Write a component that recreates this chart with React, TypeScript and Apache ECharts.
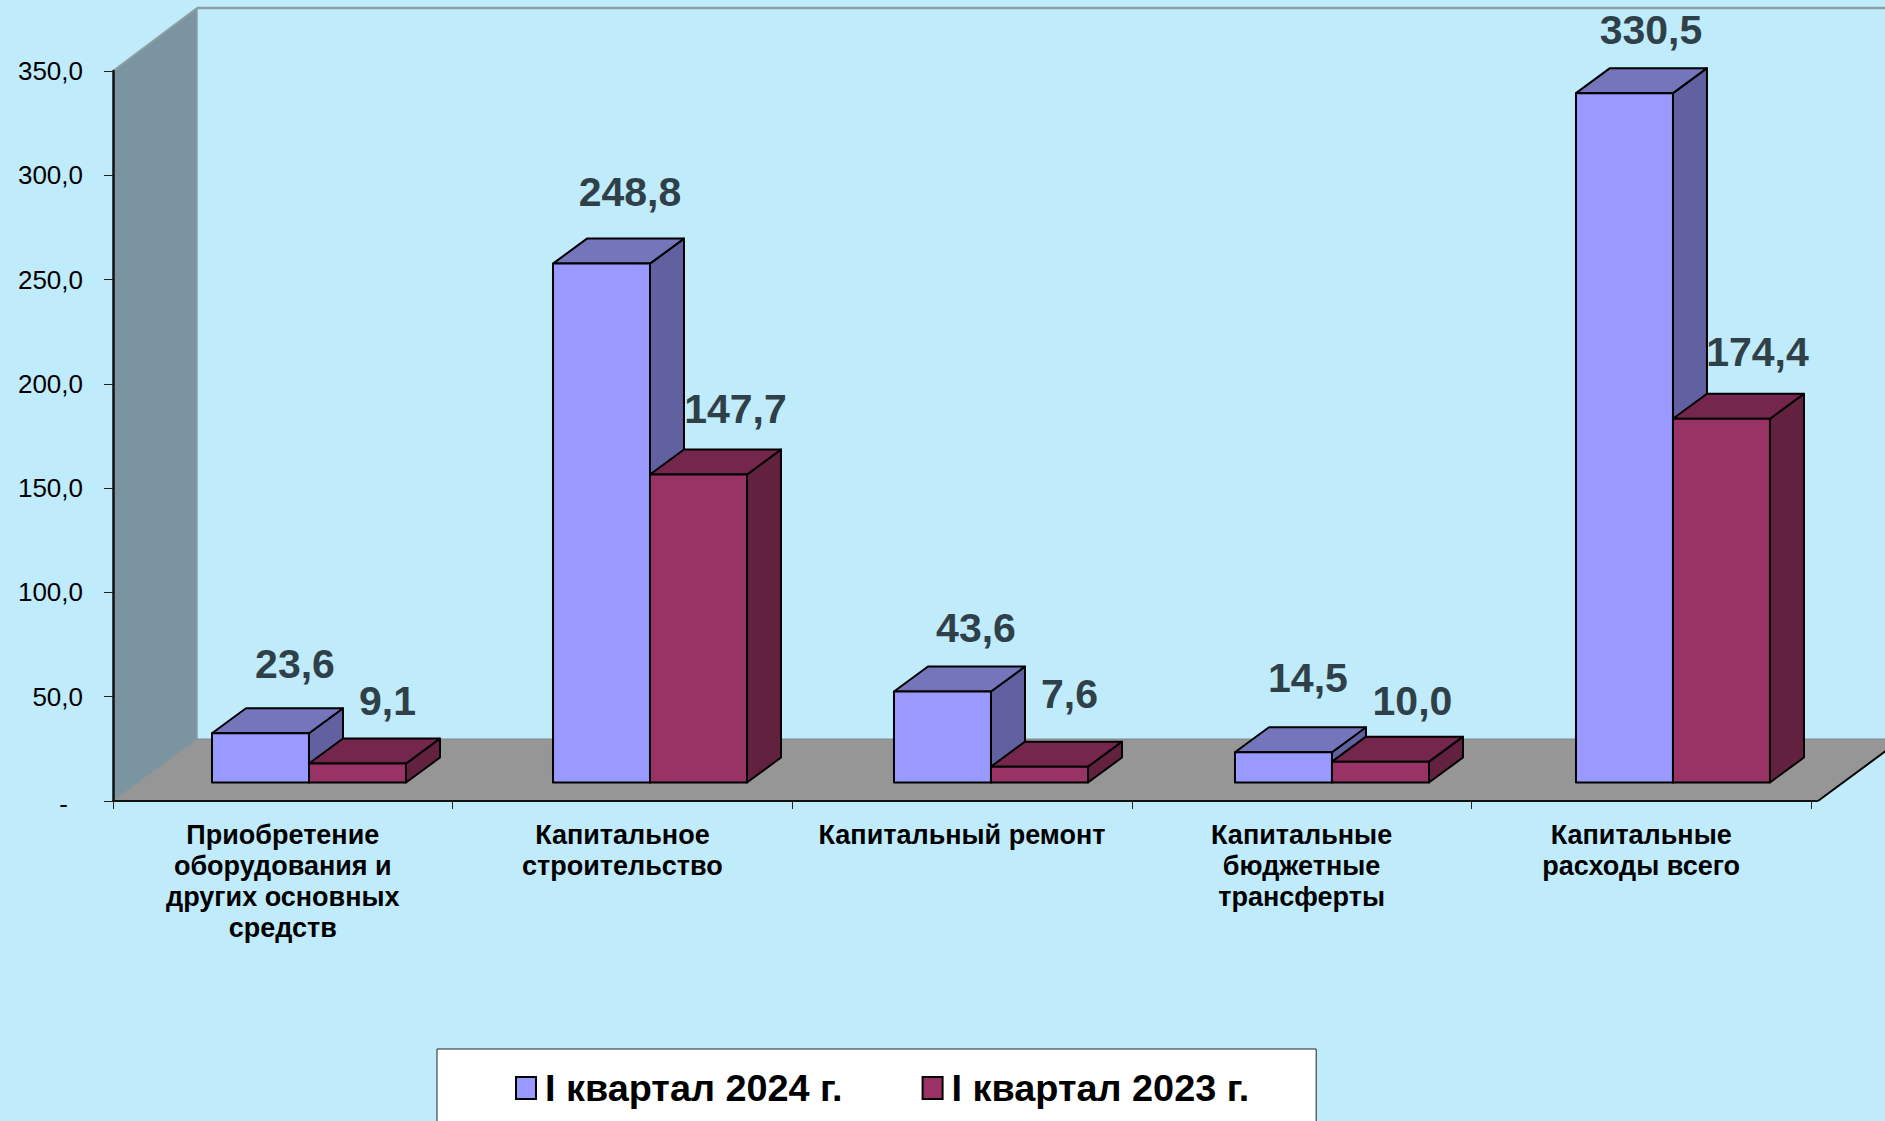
import React, { useEffect, useRef } from "react";
import * as echarts from "echarts";

const categories = [
  "Приобретение\nоборудования и\nдругих основных\nсредств",
  "Капитальное\nстроительство",
  "Капитальный ремонт",
  "Капитальные\nбюджетные\nтрансферты",
  "Капитальные\nрасходы всего",
];
const seriesNames = ["I квартал 2024 г.", "I квартал 2023 г."];
const values2024 = [23.6, 248.8, 43.6, 14.5, 330.5];
const values2023 = [9.1, 147.7, 7.6, 10.0, 174.4];
const yMin = 0;
const yMax = 350;
const yStep = 50;

// Excel's hand-placed data labels: nudge from the bar's top-centre
const labelNudge2024 = [[34.5, -69], [28.5, -72], [33.5, -64], [24.5, -74], [26.5, -63]];
const labelNudge2023 = [[30, -63], [37, -65], [30, -73], [32, -61], [36, -67]];

const FONT = '"Liberation Sans", Arial, sans-serif';
const BG = "#C0EBFB";
const BAR_W = 97;
const BAR_DX = 34;
const BAR_DY = 25;
const ROOM_DX = 84;
const ROOM_DY = 63;
const PLANE_DX = 25.5;
const PLANE_DY = 18.5;
const PLANE_STRETCH = 1.0041;

const fmt = (v: number) => v.toFixed(1).replace(".", ",");

const palette = [
  { front: "#9999FF", side: "#6161A1", top: "#7575BC" },
  { front: "#993366", side: "#62213F", top: "#75264D" },
];

function barRenderer(seriesIdx: number, nudges: number[][]) {
  return (params: any, api: any) => {
    const c = palette[seriesIdx];
    const left = params.coordSys.x;
    const idx = api.value(0);
    const val = api.value(1);
    const p0 = api.coord([idx, 0]);
    const p1 = api.coord([idx, val]);
    const mid = left + (p0[0] - left) * PLANE_STRETCH + PLANE_DX;
    const x0 = seriesIdx === 0 ? mid - BAR_W : mid;
    const x1 = x0 + BAR_W;
    const yb = p0[1] - PLANE_DY;
    const yt = yb - (p0[1] - p1[1]);
    const line = { stroke: "#000", lineWidth: 2, lineJoin: "round" };
    const n = nudges[params.dataIndex];
    return {
      type: "group",
      children: [
        {
          type: "polygon",
          shape: { points: [[x1, yb], [x1 + BAR_DX, yb - BAR_DY], [x1 + BAR_DX, yt - BAR_DY], [x1, yt]] },
          style: { fill: c.side, ...line },
        },
        {
          type: "polygon",
          shape: { points: [[x0, yt], [x1, yt], [x1 + BAR_DX, yt - BAR_DY], [x0 + BAR_DX, yt - BAR_DY]] },
          style: { fill: c.top, ...line },
        },
        {
          type: "rect",
          shape: { x: x0, y: yt, width: BAR_W, height: yb - yt },
          style: { fill: c.front, ...line },
        },
        {
          type: "text",
          z2: 50,
          x: (x0 + x1) / 2 + n[0],
          y: yt + n[1],
          style: {
            text: fmt(val),
            fill: "#2F4048",
            font: `bold 41px ${FONT}`,
            align: "center",
            verticalAlign: "middle",
          },
        },
      ],
    };
  };
}

function roomRenderer(params: any) {
  const { x, y, width, height } = params.coordSys;
  const bottom = y + height;
  const right = x + (width * PLANE_STRETCH);
  const bx = x + ROOM_DX;
  const top = y - ROOM_DY;
  const floorBack = bottom - ROOM_DY + 1;
  const grey = "#8F9CA2";
  return {
    type: "group",
    children: [
      {
        type: "polygon",
        shape: { points: [[x, y], [bx, top], [bx, floorBack], [x, bottom]] },
        style: { fill: "#7A95A1", stroke: "none" },
      },
      {
        type: "polygon",
        shape: { points: [[x, bottom], [right, bottom], [right + ROOM_DX, floorBack], [bx, floorBack]] },
        style: { fill: "#969696", stroke: "none" },
      },
      { type: "line", shape: { x1: x, y1: y, x2: bx, y2: top }, style: { stroke: grey, lineWidth: 2 } },
      { type: "line", shape: { x1: bx, y1: top, x2: right + ROOM_DX, y2: top }, style: { stroke: grey, lineWidth: 2.5 } },
      { type: "line", shape: { x1: bx, y1: top, x2: bx, y2: floorBack }, style: { stroke: grey, lineWidth: 1.5 } },
      { type: "line", shape: { x1: bx, y1: floorBack, x2: right + ROOM_DX, y2: floorBack }, style: { stroke: "#7F8A8E", lineWidth: 1 } },
      { type: "line", shape: { x1: x, y1: bottom, x2: bx, y2: floorBack }, style: { stroke: "#8A9094", lineWidth: 1 } },
      { type: "line", shape: { x1: right, y1: bottom, x2: right + ROOM_DX, y2: floorBack }, style: { stroke: "#000", lineWidth: 2 } },
      { type: "line", shape: { x1: x, y1: bottom, x2: right, y2: bottom }, style: { stroke: "#111", lineWidth: 2 } },
    ],
  };
}

export default function App() {
  const ref = useRef<HTMLDivElement>(null);
  useEffect(() => {
    document.body.style.margin = "0";
    document.body.style.overflow = "hidden";
    const chart = echarts.init(ref.current!, undefined, { renderer: "svg" });
    chart.setOption({
      animation: false,
      backgroundColor: BG,
      textStyle: { fontFamily: FONT },
      grid: { left: 113, top: 71, width: 1698, height: 730, containLabel: false },
      legend: {
        data: seriesNames,
        left: 437,
        top: 1049,
        padding: [20, 67, 41, 78],
        backgroundColor: "#FFFFFF",
        borderColor: "#222",
        borderWidth: 1,
        borderRadius: 0,
        itemWidth: 20,
        itemHeight: 22,
        itemGap: 79,
        icon: "rect",
        selectedMode: false,
        itemStyle: { borderColor: "#000", borderWidth: 2 },
        textStyle: { fontFamily: FONT, fontSize: 37.85, fontWeight: "bold", color: "#000", padding: [0, 0, 0, 4] },
      },
      xAxis: {
        type: "category",
        data: categories,
        z: 5,
        boundaryGap: true,
        axisLine: { show: true, lineStyle: { color: "#111", width: 2 } },
        axisTick: { show: true, length: 8, lineStyle: { color: "#222", width: 1 } },
        axisLabel: {
          interval: 0,
          margin: 18,
          color: "#000",
          fontFamily: FONT,
          fontSize: 27,
          fontWeight: "bold",
          lineHeight: 31,
          align: "center",
          verticalAlign: "top",
        },
        splitLine: { show: false },
      },
      yAxis: {
        type: "value",
        min: yMin,
        max: yMax,
        interval: yStep,
        z: 5,
        axisLine: { show: true, lineStyle: { color: "#111", width: 2.5 } },
        axisTick: { show: true, length: 9, lineStyle: { color: "#222", width: 1 } },
        splitLine: { show: false },
        axisLabel: {
          margin: 30,
          color: "#000",
          fontFamily: FONT,
          fontSize: 26,
          formatter: (v: number) => (v === 0 ? "{zero|-}" : fmt(v)),
          rich: { zero: { fontSize: 26, fontFamily: FONT, color: "#000", padding: [5, 15, 0, 0] } },
        },
      },
      series: [
        {
          type: "custom",
          name: "room",
          silent: true,
          z: 1,
          clip: false,
          renderItem: roomRenderer,
          data: [[0, 0]],
          encode: { x: 0, y: 1 },
        },
        {
          type: "custom",
          name: seriesNames[0],
          z: 2,
          renderItem: barRenderer(0, labelNudge2024),
          itemStyle: { color: palette[0].front },
          data: values2024.map((v, i) => [i, v]),
          encode: { x: 0, y: 1 },
        },
        {
          type: "custom",
          name: seriesNames[1],
          z: 3,
          renderItem: barRenderer(1, labelNudge2023),
          itemStyle: { color: palette[1].front },
          data: values2023.map((v, i) => [i, v]),
          encode: { x: 0, y: 1 },
        },
      ],
    });
    return () => chart.dispose();
  }, []);
  return <div ref={ref} style={{ position: "absolute", left: 0, top: 0, width: 1885, height: 1121 }} />;
}
